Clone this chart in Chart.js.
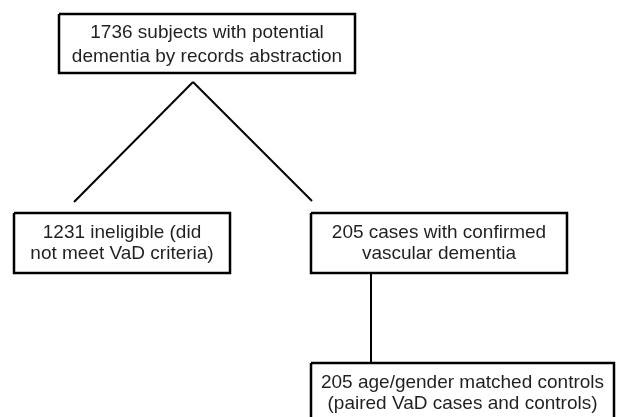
<!DOCTYPE html>
<html>
<head>
<meta charset="utf-8">
<script src="https://cdn.jsdelivr.net/npm/chart.js@4"></script>
<style>
  html, body { margin: 0; padding: 0; background: #fff; }
  canvas { display: block; }
</style>
</head>
<body>
<canvas id="flow" width="618" height="417"></canvas>
<script>
// flowchart : noeuds et liens du diagramme de sélection

// textes des noeuds (une ligne par entrée)
const nodeTexts = [
  ["1736 subjects with potential", "dementia by records abstraction"],
  ["1231 ineligible (did", "not meet VaD criteria)"],
  ["205 cases with confirmed", "vascular dementia"],
  ["205 age/gender matched controls", "(paired VaD cases and controls)"]
];

// liens entre noeuds : [depuis, vers]
const links = [[0, 1], [0, 2], [2, 3]];

// mise en page (coordonnées en pixels du canevas)
const boxLeft   = [59, 14, 311, 311];
const boxRight  = [355, 230, 567, 614];
const boxTop    = [14, 213, 213, 363];
const boxBottom = [73, 273, 273, 420];
const textY     = [[33, 57], [233, 254], [233, 254], [383, 404]];
// points d'attache des liens : [x1, y1, x2, y2]
const linkPts = [
  [193, 82, 74, 202],
  [193, 82, 312, 201],
  [371, 273, 371, 363]
];

const datasets = [];

// les cadres
boxLeft.forEach((l, i) => {
  const r = boxRight[i], t = boxTop[i], b = boxBottom[i];
  datasets.push({
    data: [{x: l, y: t}, {x: r, y: t}, {x: r, y: b}, {x: l, y: b}, {x: l, y: t}],
    borderColor: "#000",
    borderWidth: 2.5,
    showLine: true,
    pointRadius: 0,
    tension: 0,
    clip: false
  });
});

// les liens
links.forEach((lk, i) => {
  const p = linkPts[i];
  datasets.push({
    data: [{x: p[0], y: p[1]}, {x: p[2], y: p[3]}],
    borderColor: "#000",
    borderWidth: 2,
    showLine: true,
    pointRadius: 0,
    clip: false
  });
});

// plugin pour écrire les textes dans les cadres
const boxText = {
  id: "boxText",
  afterDatasetsDraw(chart) {
    const ctx = chart.ctx;
    const xs = chart.scales.x, ys = chart.scales.y;
    ctx.save();
    ctx.fillStyle = "#231f20";
    ctx.font = "19px 'Liberation Sans', Arial, sans-serif";
    ctx.textAlign = "center";
    ctx.textBaseline = "middle";
    nodeTexts.forEach((lines, i) => {
      const cx = xs.getPixelForValue((boxLeft[i] + boxRight[i]) / 2);
      lines.forEach((s, k) => {
        ctx.fillText(s, cx, ys.getPixelForValue(textY[i][k]));
      });
    });
    ctx.restore();
  }
};

new Chart(document.getElementById("flow"), {
  type: "scatter",
  data: { datasets },
  options: {
    responsive: false,
    animation: false,
    layout: { padding: 0 },
    plugins: { legend: { display: false }, tooltip: { enabled: false } },
    scales: {
      x: { type: "linear", min: 0, max: 618, display: false },
      y: { type: "linear", min: 0, max: 417, reverse: true, display: false }
    }
  },
  plugins: [boxText]
});
</script>
</body>
</html>
